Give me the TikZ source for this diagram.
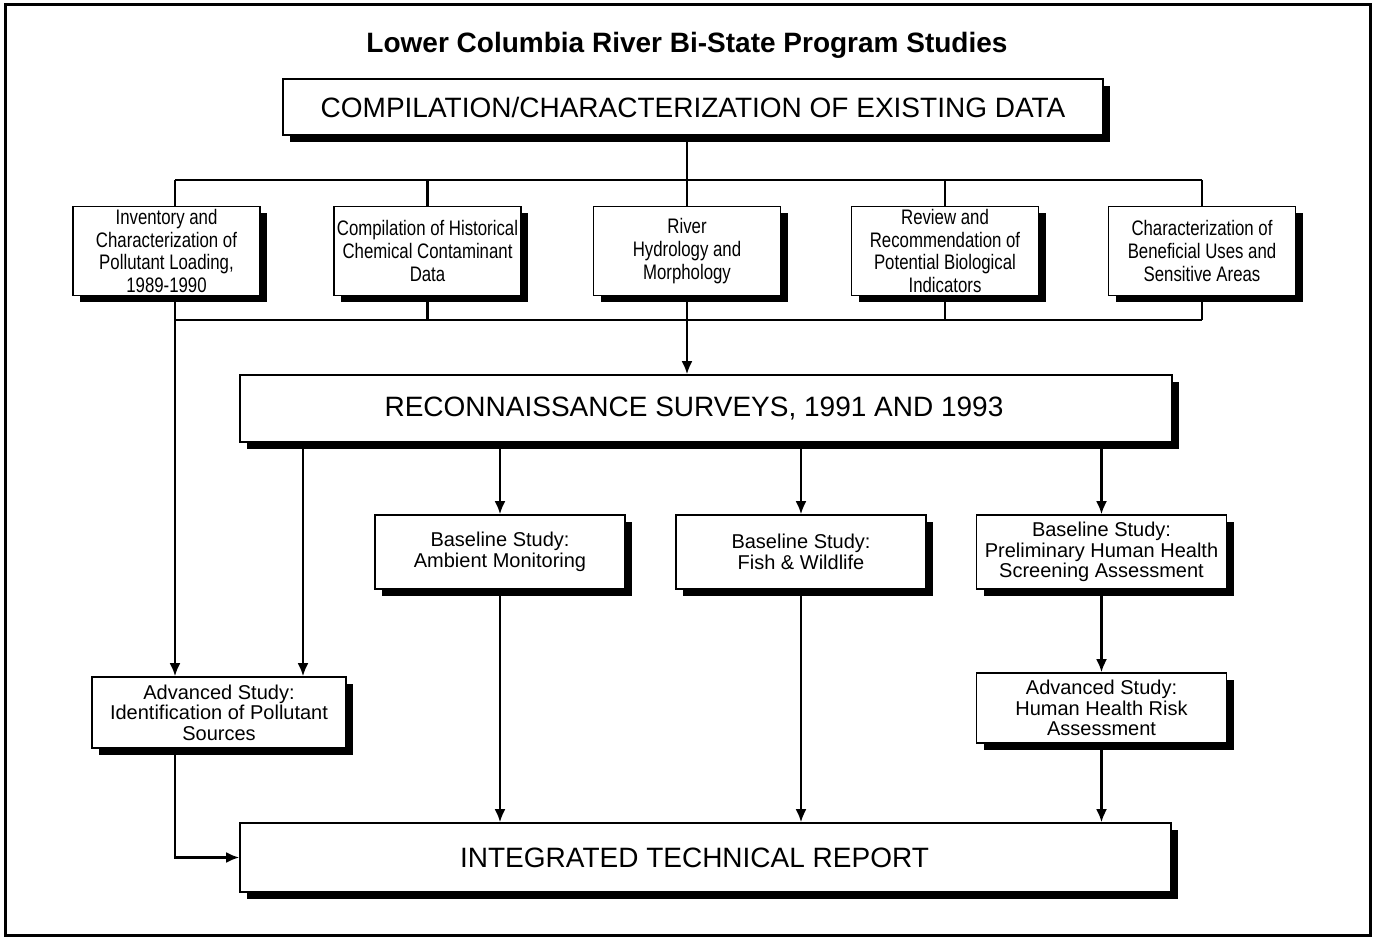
\documentclass[tikz,border=0pt]{standalone}
\usepackage{fontspec}
\setmainfont{Liberation Sans}
\newfontfamily\narrowfont[FakeStretch=0.8]{Liberation Sans}
\usetikzlibrary{arrows.meta,shadows}

\begin{document}
\begin{tikzpicture}[x=0.5pt,y=-0.5pt]
\tikzset{BoxStyle/.style={draw, line width=0.8pt, fill=white, inner sep=1pt, align=center,
    drop shadow={shadow xshift=3.5pt, shadow yshift=-3.5pt, fill=black, opacity=1}},
  BigBox/.style={BoxStyle, font=\fontsize{14}{16}\selectfont},
  RowBox/.style={BoxStyle, minimum width=93.5pt, minimum height=44.5pt, inner sep=0pt,
    font=\narrowfont\fontsize{10.5}{11.3}\selectfont},
  StudyBox/.style={BoxStyle, minimum width=125pt, font=\fontsize{10}{10.2}\selectfont},
  EdgeStyle/.style={line width=1.1pt},
  ArrowStyle/.style={EdgeStyle, -{Latex[length=6.5pt,width=5.5pt]}}}
\useasboundingbox (0,0) rectangle (1379,940);
\draw[line width=1.5pt] (5,5) rectangle (1370,935);
\node[font=\bfseries\fontsize{14}{16}\selectfont] (title) at (687,45)
  {Lower Columbia River Bi-State Program Studies};
\node[BigBox, minimum width=410pt, minimum height=28pt] (comp) at (693,107)
  {COMPILATION/CHARACTERIZATION OF EXISTING DATA};
% first studies
\node[RowBox] (inv) at (166.5,251) {Inventory and\\Characterization of\\Pollutant Loading,\\1989-1990};
\node[RowBox] (hist) at (427.5,251) {Compilation of Historical\\Chemical Contaminant\\Data};
\node[RowBox] (river) at (687,251) {River\\Hydrology and\\Morphology};
\node[RowBox] (rev) at (945,251) {Review and\\Recommendation of\\Potential Biological\\Indicators};
\node[RowBox] (ben) at (1202,251) {Characterization of\\Beneficial Uses and\\Sensitive Areas};
\node[BigBox, minimum width=466pt, minimum height=33.5pt] (rec) at (706,408.5)
  {RECONNAISSANCE SURVEYS, 1991 AND 1993\hspace*{12pt}};
% baseline and advanced studies
\node[StudyBox, minimum height=37pt] (amb) at (500,552) {Baseline Study:\\Ambient Monitoring};
\node[StudyBox, minimum height=37pt] (fish) at (801,552) {Baseline Study:\\Fish \& Wildlife};
\node[StudyBox, minimum height=37pt] (pre) at (1101.5,552)
  {Baseline Study:\\Preliminary Human Health\\Screening Assessment};
\node[StudyBox, minimum width=127pt, minimum height=35.5pt] (adv) at (219,712.5)
  {Advanced Study:\\Identification of Pollutant\\Sources};
\node[StudyBox, minimum height=35pt] (risk) at (1101.5,708)
  {Advanced Study:\\Human Health Risk\\Assessment};
\node[BigBox, minimum width=465.5pt, minimum height=34.5pt] (rep) at (705.5,857.5)
  {INTEGRATED TECHNICAL REPORT\hspace*{11pt}};
% connectors
\coordinate (tl) at (175,180);
\coordinate (bl) at (175,320);
\coordinate (ra) at (303,442);
\draw[EdgeStyle] (tl) -- (tl -| ben);
\draw[EdgeStyle] (bl) -- (bl -| ben);
\draw[EdgeStyle] (comp.south -| river) -- (river.north);
\draw[EdgeStyle] (tl) -- (tl |- inv.north);
\foreach \n in {hist,rev,ben} {
  \draw[EdgeStyle] (tl -| \n) -- (\n.north);
  \draw[EdgeStyle] (\n.south) -- (bl -| \n);
}
\draw[ArrowStyle] (tl |- inv.south) -- (tl |- adv.north);
\draw[ArrowStyle] (river.south) -- (rec.north -| river);
\draw[ArrowStyle] (rec.south -| ra) -- (ra |- adv.north);
\foreach \n in {amb,fish,pre}
  \draw[ArrowStyle] (rec.south -| \n) -- (\n.north);
\draw[ArrowStyle] (amb.south) -- (rep.north -| amb);
\draw[ArrowStyle] (fish.south) -- (rep.north -| fish);
\draw[ArrowStyle] (pre.south) -- (risk.north);
\draw[ArrowStyle] (risk.south) -- (rep.north -| risk);
\draw[ArrowStyle] (adv.south -| tl) |- (rep.west);
\end{tikzpicture}
\end{document}
